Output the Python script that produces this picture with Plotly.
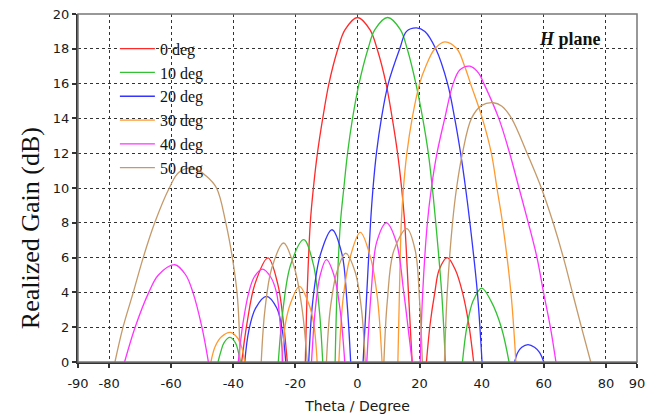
import plotly.graph_objects as go

# ---- data (theta in degrees, realized gain in dB); None separates lobes
red_theta = [-37.3, -35.6, -33.0, -28.8, -25.7, -23.8, -22.6, None,
             -16.8, -16.2, -15.2, -14.2, -12.9, -11.2, -9.2, -6.3, -4.0, 0.0, 4.0, 6.3, 9.2, 11.2, 12.9, 14.2, 15.2, 16.4, 17.6, None,
             22.2, 23.4, 24.9, 26.3, 28.9, 31.5, 33.8, 35.8, 37.4]
red_gain = [0, 2.2, 4.5, 5.98, 4.5, 2.2, 0, None,
            0, 4, 8, 10, 12, 14, 16, 18, 19.1, 19.8, 19.1, 18, 16, 14, 12, 10, 8, 4, 0, None,
            0, 2.2, 4, 5.3, 6.0, 5.3, 4, 2.2, 0]

green_theta = [-44.9, -44.0, -43.0, -41.1, -39.3, -38.4, -37.7, None,
               -25.5, -24.0, -21.5, -17.3, -14.2, -12.3, -11.2, None,
               -7.2, -6.6, -5.5, -4.4, -3.2, -1.6, 0.5, 3.4, 5.6, 9.7, 13.8, 16.0, 18.8, 21.0, 22.8, 24.1, 25.2, 27.1, 28.3, None,
               33.8, 35.2, 37.2, 40.0, 43.0, 46.3, 48.8]
green_gain = [0, 0.6, 1.1, 1.41, 1.1, 0.6, 0, None,
              0, 3.0, 5.6, 7.03, 5.6, 3.0, 0, None,
              0, 4, 8, 10, 12, 14, 16, 18, 19.1, 19.8, 19.1, 18, 16, 14, 12, 10, 8, 4, 0, None,
              0, 2.0, 3.5, 4.25, 3.5, 2.0, 0]

blue_theta = [-36.3, -35.0, -32.8, -29.3, -26.0, -24.2, -23.1, None,
              -15.7, -14.4, -11.9, -8.2, -5.0, -3.4, -2.2, None,
              1.8, 3.0, 4.2, 5.0, 6.1, 7.7, 9.9, 13.6, 15.8, 19.0, 21.7, 25.2, 29.0, 31.3, 33.2, 34.8, 36.2, 38.6, 40.1, None,
              50.6, 51.6, 52.9, 54.9, 57.0, 58.6, 60.0]
blue_gain = [0, 1.8, 3.1, 3.77, 3.1, 1.8, 0, None,
             0, 3.5, 6.2, 7.6, 6.2, 3.5, 0, None,
             0, 4, 8, 10, 12, 14, 16, 18, 19, 19.2, 19, 18, 16, 14, 12, 10, 8, 4, 0, None,
             0, 0.55, 0.85, 1.0, 0.85, 0.55, 0]

orange_theta = [-47.2, -45.8, -43.8, -40.9, -38.5, -37.2, -36.3, None,
                -24.3, -23.2, -21.5, -18.7, -15.8, -14.1, -13.0, None,
                -6.0, -4.6, -2.4, 0.9, 4.2, 6.4, 7.9, None,
                13.0, 13.5, 14.1, 14.8, 15.9, 17.6, 20.0, 22.0, 24.9, 28.1, 32.0, 34.5, 36.4, 40.2, 43.1, 44.9, 46.7, 49.4, 51.0]
orange_gain = [0, 0.9, 1.45, 1.7, 1.35, 0.8, 0, None,
               0, 2.2, 3.4, 4.35, 3.4, 2.2, 0, None,
               0, 3.7, 6.0, 7.45, 6.0, 3.7, 0, None,
               0, 4, 8, 10, 12, 14, 16, 17, 18, 18.4, 18, 17, 16, 14, 12, 10, 8, 4, 0]

magenta_theta = [-75.0, -71.6, -67.2, -64.1, -58.8, -55.3, -53.0, -50.1, -48.0, None,
                 -38.4, -36.9, -35.0, -33.2, -30.6, -28.0, -26.1, -24.9, -24.1, None,
                 -14.8, -13.6, -12.0, -10.0, -7.6, -5.6, -4.1, None,
                 3.0, 4.4, 6.2, 9.3, 12.5, 14.9, 16.6, 17.6, None,
                 20.2, 21.0, 22.5, 23.8, 25.6, 28.1, 30.8, 33.0, 36.2, 39.0, 40.7, 45.5, 49.0, 52.0, 55.0, 57.8, 59.9, 62.1, 63.9]
magenta_gain = [0, 2, 4, 5, 5.59, 5, 4, 2, 0, None,
                0, 2.2, 4.0, 4.9, 5.34, 4.9, 4.0, 2.2, 0, None,
                0, 3, 5.0, 5.88, 5.0, 3, 0, None,
                0, 4, 6.9, 8.0, 6.9, 4, 1.5, 0, None,
                0, 4, 8, 10, 12, 14, 16, 16.8, 17.0, 16.6, 16, 14, 12, 10, 8, 6, 4, 2, 0]

brown_theta = [-78.1, -75.5, -72.2, -69.0, -65.3, -60.6, -57.5, -52.9, -48.8, -45.4, -42.4, -40.3, -38.8, -38.1, -37.9, None,
               -31.0, -29.8, -27.6, -23.8, -20.3, -17.8, -16.2, None,
               -10.0, -8.8, -6.6, -3.8, -0.8, 1.3, 2.5, None,
               8.5, 9.6, 11.7, 15.9, 18.6, 20.0, 20.9, None,
               28.0, 28.9, 30.6, 31.9, 33.8, 36.7, 40.0, 43.7, 46.5, 49.6, 54.6, 59.2, 63.0, 66.3, 69.2, 72.1, 75.1]
brown_gain = [0, 2, 4, 6, 8, 10, 10.9, 11.15, 10.7, 10, 8, 6, 4, 2, 0, None,
              0, 3.0, 5.4, 6.84, 5.4, 3.0, 0, None,
              0, 3, 5.2, 6.25, 5.2, 3, 0, None,
              0, 3.5, 6.4, 7.66, 6.4, 3.5, 0, None,
              0, 4, 8, 10, 12, 14, 14.75, 14.9, 14.7, 14, 12, 10, 8, 6, 4, 2, 0]

series_names = ["0 deg", "10 deg", "20 deg", "30 deg", "40 deg", "50 deg"]
series_colors = ["#ff2a2a", "#33c233", "#3535ff", "#ff9a30", "#ff33ff", "#c59a6a"]
series_theta = [red_theta, green_theta, blue_theta, orange_theta, magenta_theta, brown_theta]
series_gain = [red_gain, green_gain, blue_gain, orange_gain, magenta_gain, brown_gain]

x_ticks = [-90, -80, -60, -40, -20, 0, 20, 40, 60, 80, 90]
y_ticks = [0, 2, 4, 6, 8, 10, 12, 14, 16, 18, 20]

fig = go.Figure()
for name, color, th, g in zip(series_names, series_colors, series_theta, series_gain):
    fig.add_trace(go.Scatter(
        x=th, y=g, name=name, mode="lines",
        line=dict(color=color, width=1.3, shape="spline", smoothing=1.0),
        connectgaps=False, cliponaxis=True,
    ))

tick_font = dict(family="DejaVu Sans", size=13, color="#1a1a1a")

fig.update_layout(
    width=659, height=417,
    margin=dict(l=78, r=22, t=14, b=55),
    paper_bgcolor="white", plot_bgcolor="white",
    showlegend=True,
    legend=dict(
        x=0.066, y=0.949, xanchor="left", yanchor="top",
        bgcolor="rgba(0,0,0,0)", borderwidth=0,
        font=dict(family="Liberation Serif", size=16, color="#111"),
        itemwidth=35, tracegroupgap=0,
    ),
    xaxis=dict(
        range=[-90, 90], tickvals=x_ticks, ticktext=[str(v) for v in x_ticks],
        showgrid=True, gridcolor="#333", griddash="3px,3px", gridwidth=1.3,
        showline=True, linecolor="#333", linewidth=2,
        ticks="outside", ticklen=4, tickcolor="#333", tickwidth=1.5,
        tickfont=tick_font, zeroline=False, ticklabelstandoff=4, automargin=False,
        title=dict(text="Theta / Degree", font=dict(family="DejaVu Sans", size=14, color="#1a1a1a"), standoff=12),
    ),
    yaxis=dict(
        range=[0, 20], tickvals=y_ticks,
        showgrid=True, gridcolor="#333", griddash="3px,3px", gridwidth=1.3,
        showline=True, linecolor="#333", linewidth=2,
        ticks="outside", ticklen=4, tickcolor="#333", tickwidth=1.5,
        tickfont=tick_font, zeroline=False, automargin=False,
    ),
    shapes=[dict(type="rect", xref="paper", yref="paper", x0=0, y0=0, x1=1, y1=1,
                 line=dict(color="#777", width=1.5), fillcolor="rgba(0,0,0,0)", layer="above")],
    annotations=[
        dict(text="<b><i>H</i> plane</b>", xref="paper", yref="paper", x=0.94, y=0.928,
             xanchor="right", yanchor="middle", showarrow=False,
             font=dict(family="Liberation Serif", size=18, color="#111")),
        dict(text="Realized Gain (dB)", xref="paper", yref="paper", x=-0.085, y=0.386,
             xanchor="center", yanchor="middle", textangle=-90, showarrow=False,
             font=dict(family="Liberation Serif", size=26, color="#111")),
    ],
)

fig.write_html("out.html", config={"displayModeBar": False},
               post_script="document.body.style.margin='0';")
